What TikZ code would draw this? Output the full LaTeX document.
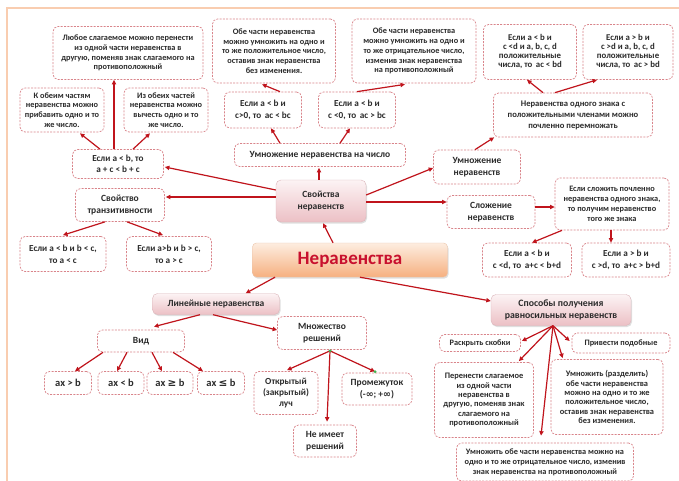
\documentclass[tikz,border=0pt]{standalone}
\usepackage{fontspec}
\setmainfont{Carlito}
\newfontfamily\symf{DejaVu Sans}
\usetikzlibrary{arrows.meta,calc,shadows}
\definecolor{boxline}{HTML}{D9848A}
\definecolor{arr}{HTML}{C0141C}
\definecolor{peach}{HTML}{F9CDB0}
\definecolor{txt}{HTML}{2B2B2B}
\definecolor{pinkA}{HTML}{FCF3F4}
\definecolor{pinkB}{HTML}{ECC0C5}
\definecolor{orA}{HTML}{FDEDE0}
\definecolor{orB}{HTML}{F6B080}
\definecolor{titlered}{HTML}{C8102E}
\definecolor{dotgreen}{HTML}{3FB34F}
\tikzset{
 sz/.style 2 args={minimum width=#1pt, minimum height=#2pt},
 dbox/.style={draw=boxline, dash pattern=on 2pt off 1.3pt, line width=0.7pt, rounded corners=5pt, align=center, inner sep=1pt, text=txt, font=\bfseries\fontsize{8.3}{9.8}\selectfont},
 mbox/.style={dbox, font=\bfseries\fontsize{9.2}{12.3}\selectfont},
 hbox/.style={dbox, font=\bfseries\fontsize{9.5}{12.5}\selectfont},
 axbox/.style={dbox, font=\bfseries\fontsize{10.5}{12.5}\selectfont},
 pbox/.style={draw=pinkB!85!gray, line width=0.4pt, rounded corners=5pt, top color=pinkA, bottom color=pinkB, drop shadow={opacity=0.25, shadow xshift=1pt, shadow yshift=-1.5pt}, align=center, inner sep=1pt, text=txt, font=\bfseries\fontsize{9.5}{12.5}\selectfont},
 mainbox/.style={draw=orB!90!black!60, line width=0.4pt, rounded corners=4pt, top color=orA, bottom color=orB, drop shadow={opacity=0.25, shadow xshift=1pt, shadow yshift=-1.5pt}, align=center, text=titlered, font=\bfseries\fontsize{19}{22}\selectfont},
 arrow/.style={draw=arr, line width=1.2pt, -{Triangle[length=4.5pt,width=4.2pt]}},
 gdot/.style={circle, fill=dotgreen, inner sep=0pt, minimum size=3.2pt},
}
\begin{document}
\begin{tikzpicture}[x=1pt,y=-1pt]
\useasboundingbox (0,0) rectangle (679,481);
\fill[white] (0,0) rectangle (679,481);
\draw[peach, line width=2.2pt] (7,481) -- (7,8) -- (679,8);

% top-left
\node[dbox, sz={150}{53}] (A1) at (128,53) {Любое слагаемое можно перенести\\из одной части неравенства в\\другую, поменяв знак слагаемого на\\противоположный};
\node[dbox, sz={84}{44}] (A2) at (62,110) {К обеим частям\\неравенства можно\\прибавить одно и то\\же число.};
\node[dbox, sz={84}{44}] (A3) at (166,110) {Из обеих частей\\неравенства можно\\вычесть одно и то\\же число.};
% top-middle
\node[dbox, sz={123}{64}] (B1) at (274,51) {Обе части неравенства\\можно умножить на одно и\\то же положительное число,\\оставив знак неравенства\\без изменения.};
\node[dbox, sz={124}{64}] (B2) at (414,51) {Обе части неравенства\\можно умножить на одно и\\то же отрицательное число,\\изменив знак неравенства\\на противоположный};
\node[mbox, sz={77}{36}] (B3) at (263,110) {Если a < b и\\c>0, то\, ac < bc};
\node[mbox, sz={77}{36}] (B4) at (357,110) {Если a < b и\\c <0, то\, ac > bc};
% top-right
\node[dbox, sz={93}{55}, font=\bfseries\fontsize{8.8}{9}\selectfont] (C1) at (530,52) {Если a < b и\\c <d и a, b, c, d\\положительные\\числа, то\, ac < bd};
\node[dbox, sz={90}{55}, font=\bfseries\fontsize{8.8}{9}\selectfont] (C2) at (628,52) {Если a > b и\\c >d и a, b, c, d\\положительные\\числа, то\, ac > bd};
\node[dbox, sz={159}{44}, font=\bfseries\fontsize{8.6}{11}\selectfont] (C3) at (573,115) {Неравенства одного знака с\\положительными членами можно\\почленно перемножать};
% middle-left
\node[mbox, sz={91}{29}, font=\bfseries\fontsize{9.2}{10.5}\selectfont] (D1) at (118,164) {Если a < b, то\\a + c < b + c};
\node[hbox, sz={89}{33}] (D2) at (120,205) {Свойство\\транзитивности};
\node[mbox, sz={86}{35}] (D3) at (63,254) {Если a < b и b < c,\\то a < c};
\node[mbox, sz={85}{35}] (D4) at (169,254) {Если a>b и b > c,\\то a > c};
% center
\node[hbox, sz={171}{23}] (E1) at (320,155) {Умножение неравенства на число};
\node[pbox, sz={90}{42}] (E2) at (321,201) {Свойства\\неравенств};
\node[mainbox, sz={195}{34}] (Main) at (350,260) {Неравенства};
% middle-right
\node[hbox, sz={87}{34}] (F1) at (477,167) {Умножение\\неравенств};
\node[hbox, sz={88}{33}] (F2) at (491,212) {Сложение\\неравенств};
\node[dbox, sz={114}{52}] (F3) at (612,204) {Если сложить почленно\\неравенства одного знака,\\то получим неравенство\\того же знака};
\node[mbox, sz={89}{34}] (F4) at (527,260) {Если a < b и\\c <d, то\, a+c < b+d};
\node[mbox, sz={88}{34}] (F5) at (626,260) {Если a > b и\\c >d, то\, a+c > b+d};
% bottom-left
\node[pbox, sz={127}{21}] (G1) at (216,304) {Линейные неравенства};
\node[hbox, sz={87}{22}] (G2) at (141,341) {Вид};
\node[axbox, sz={47}{23}] (G3) at (68,383) {ax > b};
\node[axbox, sz={46}{23}] (G4) at (121,383) {ax < b};
\node[axbox, sz={46}{23}] (G5) at (170,383) {ax {\symf ≥} b};
\node[axbox, sz={47}{23}] (G6) at (221,383) {ax {\symf ≤} b};
% bottom-middle
\node[hbox, sz={89}{33}] (H1) at (322,333) {Множество\\решений};
\node[hbox, sz={64}{43}, font=\bfseries\fontsize{9.3}{11}\selectfont] (H2) at (286,393) {Открытый\\(закрытый)\\луч};
\node[hbox, sz={70}{32}] (H3) at (377,389) {Промежуток\\(-{\symf ∞}; +{\symf ∞})};
\node[hbox, sz={63}{32}] (H4) at (325,441) {Не имеет\\решений};
% bottom-right
\node[pbox, sz={140}{31}, font=\bfseries\fontsize{9.8}{12.5}\selectfont] (I1) at (561,310) {Способы получения\\равносильных неравенств};
\node[dbox, sz={81}{17}] (I2) at (480,343) {Раскрыть скобки};
\node[dbox, sz={98}{20}] (I3) at (621,343) {Привести подобные};
\node[dbox, sz={99}{75}, font=\bfseries\fontsize{8.4}{9.3}\selectfont] (I4) at (484,400) {Перенести слагаемое\\из одной части\\неравенства в\\другую, поменяв знак\\слагаемого на\\противоположный};
\node[dbox, sz={112}{75}, font=\bfseries\fontsize{8.4}{9.3}\selectfont] (I5) at (607,397) {Умножить (разделить)\\обе части неравенства\\можно на одно и то же\\положительное число,\\оставив знак неравенства\\без изменения.};
\node[dbox, sz={177}{38}] (I6) at (545,462) {Умножить обе части неравенства можно на\\одно и то же отрицательное число, изменив\\знак неравенства на противоположный};

% connectors
\draw[arrow] ($(D1.north)+(-4,0)$) -- ($(A1.south)+(-14,0)$);
\draw[arrow] ($(D1.north)+(-18,0)$) -- ($(A2.south)+(18,1)$);
\draw[arrow] ($(D1.north)+(15,0)$) -- ($(A3.south)+(-16,1)$);
\draw[arrow] ($(E2.west)+(0,-11)$) -- ($(D1.east)+(1,3)$);
\draw[arrow] ($(E2.west)+(0,-4)$) -- ($(D2.east)+(1,-8)$);
\draw[arrow] ($(D2.south)+(-15,0)$) -- ($(D3.north)+(0,-1)$);
\draw[arrow] ($(D2.south)+(7,0)$) -- ($(D4.north)+(-6,-1)$);
\draw[arrow] ($(E2.north)+(-2,0)$) -- ($(E1.south)+(-1,1)$);
\draw[arrow] ($(E1.north)+(-40,0)$) -- ($(B3.south)+(8,0)$);
\draw[arrow] ($(E1.north)+(20,0)$) -- ($(B4.south)+(-7,0)$);
\draw[arrow] ($(B3.north)+(17,0)$) -- ($(B1.south)+(-12,1)$);
\draw[arrow] (B4.north) -- ($(B2.south)+(-9,1)$);
\draw[arrow] ($(E2.east)+(0,-6)$) -- ($(F1.west)+(0,1)$);
\draw[arrow] ($(E2.east)+(0,1)$) -- ($(F2.west)+(0,-10)$);
\draw[arrow] ($(F1.north)+(-2,0)$) -- ($(C3.south west)+(1,0)$);
\draw[arrow] ($(C3.north)+(-30,0)$) -- ($(C1.south)+(-3,0)$);
\draw[arrow] ($(C3.north)+(-18,0)$) -- ($(C2.south)+(-31,0)$);
\draw[arrow] ($(F2.east)+(0,-5)$) -- ($(F3.west)+(0,3)$);
\draw[arrow] ($(F3.south)+(-50,0)$) -- ($(F4.north)+(5,0)$);
\draw[arrow] ($(F3.south)+(-1,0)$) -- ($(F5.north)+(-15,0)$);
\draw[arrow] ($(Main.north)+(-17,0)$) -- ($(E2.south)+(2,1)$);
\draw[arrow] ($(Main.south)+(-75,0)$) -- ($(G1.north east)+(-34,0)$);
\draw[arrow] ($(Main.south)+(10,0)$) -- ($(I1.west)+(0,-9)$);
\draw[arrow] ($(G1.south)+(-16,0)$) -- ($(G2.north)+(13,-3)$);
\draw[arrow] ($(G1.south)+(-3,0)$) -- ($(H1.west)+(0,-3)$);
\draw[arrow] ($(G2.south)+(-38,0)$) -- ($(G3.north)+(7,0)$);
\draw[arrow] ($(G2.south)+(-14,0)$) -- ($(G4.north)+(-4,0)$);
\draw[arrow] ($(G2.south)+(11,0)$) -- ($(G5.north)+(-8,0)$);
\draw[arrow] ($(G2.south)+(32,0)$) -- ($(G6.north)+(-18,0)$);
\coordinate (Hdot) at ($(H1.south)+(8,1)$);
\coordinate (Hend) at ($(H3.north)+(-2,-1)$);
\draw[arrow] (Hdot) -- ($(H2.north)+(1,-1)$);
\draw[arrow] (Hdot) -- (Hend);
\draw[arrow] (Hdot) -- ($(H4.north)+(2,-3)$);
\node[gdot] (dot1) at (Hdot) {};
\node[gdot] (dot2) at (Hend) {};
\coordinate (Ifan) at ($(I1.south)+(-8,0)$);
\draw[arrow] (Ifan) -- ($(I2.east)+(1,-2)$);
\draw[arrow] (Ifan) -- ($(I3.west)+(-2,-2)$);
\draw[arrow] (Ifan) -- ($(I4.north east)+(-15,-1)$);
\draw[arrow] (Ifan) -- ($(I5.north west)+(12,-1)$);
\draw[arrow] (Ifan) -- ($(I6.north)+(-4,-7)$);
\end{tikzpicture}
\end{document}
